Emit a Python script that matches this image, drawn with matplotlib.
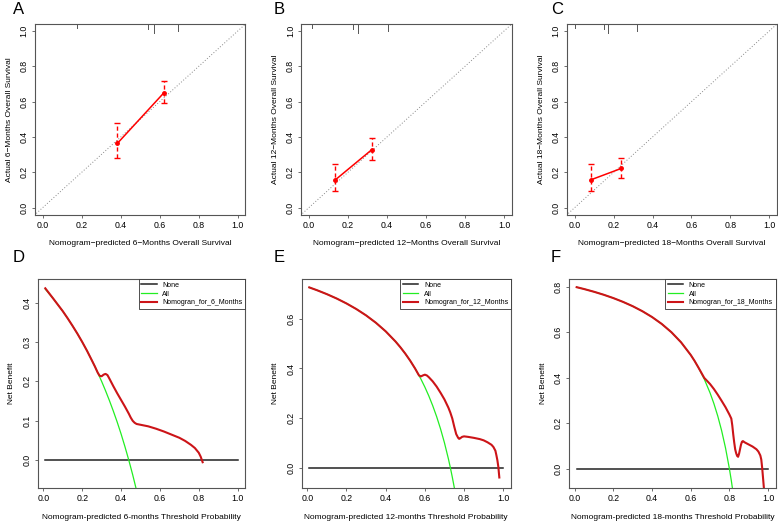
import matplotlib
matplotlib.use("Agg")
import matplotlib.pyplot as plt
import numpy as np

plt.rcParams["font.family"] = ["Liberation Sans", "DejaVu Sans"]

W, H = 778, 527

# ---------- calibration data (top row)
MONTHS = ["6", "12", "18"]
CAL_PRED = [[0.383, 0.622], [0.133, 0.321], [0.085, 0.240]]
CAL_OBS = [[0.364, 0.651], [0.155, 0.327], [0.158, 0.222]]
CAL_LO = [[0.283, 0.590], [0.093, 0.268], [0.096, 0.170]]
CAL_HI = [[0.477, 0.717], [0.244, 0.395], [0.247, 0.280]]
RUG_POS = [[0.177, 0.540, 0.571, 0.694],
           [0.015, 0.227, 0.253, 0.407],
           [0.003, 0.151, 0.172, 0.320]]
RUG_LEN = [0.023, 0.030, 0.050, 0.040]

# ---------- decision curve data (bottom row)
ALL_T = [
    [0.01, 0.05, 0.10, 0.125, 0.15, 0.175, 0.20, 0.225, 0.25, 0.265, 0.28,
     0.30, 0.32, 0.34, 0.36, 0.38, 0.40, 0.42, 0.44, 0.46, 0.48, 0.50],
    [0.01, 0.05, 0.10, 0.15, 0.20, 0.25, 0.30, 0.35, 0.40, 0.45, 0.475, 0.50,
     0.525, 0.55, 0.58, 0.60, 0.62, 0.64, 0.66, 0.68, 0.70, 0.72, 0.73, 0.74,
     0.75, 0.76],
    [0.01, 0.05, 0.10, 0.15, 0.20, 0.25, 0.30, 0.35, 0.40, 0.45, 0.50, 0.55,
     0.60, 0.62, 0.64, 0.67, 0.70, 0.72, 0.74, 0.76, 0.78, 0.80, 0.81, 0.82],
]
ALL_NB = [
    [0.434, 0.4105, 0.378, 0.360, 0.341, 0.3212, 0.300, 0.2774, 0.253, 0.2381,
     0.222, 0.200, 0.1765, 0.1515, 0.125, 0.097, 0.067, 0.0345, 0.000, -0.037,
     -0.077, -0.120],
    [0.7273, 0.7158, 0.700, 0.6824, 0.6625, 0.640, 0.6143, 0.5846, 0.550,
     0.5091, 0.4857, 0.460, 0.4316, 0.400, 0.3571, 0.325, 0.2895, 0.250,
     0.2059, 0.1563, 0.100, 0.0357, 0.000, -0.0385, -0.080, -0.125],
    [0.798, 0.7895, 0.7778, 0.7647, 0.750, 0.7333, 0.7143, 0.6923, 0.6667,
     0.6364, 0.600, 0.5556, 0.500, 0.4737, 0.4444, 0.3939, 0.3333, 0.2857,
     0.2308, 0.1667, 0.0909, 0.000, -0.0526, -0.1111],
]
NOM_T = [
    [0.01, 0.05, 0.10, 0.125, 0.15, 0.175, 0.20, 0.225, 0.25, 0.265, 0.28,
     0.29, 0.30, 0.31, 0.32, 0.33, 0.34, 0.36, 0.38, 0.40, 0.42, 0.44, 0.45,
     0.46, 0.47, 0.48, 0.50, 0.54, 0.58, 0.62, 0.66, 0.70, 0.73, 0.76, 0.78,
     0.80, 0.81, 0.82],
    [0.01, 0.05, 0.10, 0.15, 0.20, 0.25, 0.30, 0.35, 0.40, 0.45, 0.475, 0.50,
     0.525, 0.55, 0.57, 0.58, 0.59, 0.60, 0.61, 0.62, 0.64, 0.66, 0.68, 0.70,
     0.72, 0.73, 0.74, 0.75, 0.76, 0.77, 0.775, 0.78, 0.79, 0.80, 0.82, 0.85,
     0.88, 0.90, 0.92, 0.94, 0.95, 0.96, 0.965, 0.97, 0.975, 0.98],
    [0.01, 0.05, 0.10, 0.15, 0.20, 0.25, 0.30, 0.35, 0.40, 0.45, 0.50, 0.55,
     0.60, 0.62, 0.64, 0.67, 0.68, 0.70, 0.72, 0.74, 0.76, 0.78, 0.80, 0.81,
     0.815, 0.82, 0.825, 0.83, 0.835, 0.84, 0.845, 0.85, 0.855, 0.86, 0.865,
     0.87, 0.88, 0.90, 0.92, 0.94, 0.95, 0.96, 0.965, 0.97, 0.975, 0.98],
]
NOM_NB = [
    [0.436, 0.4105, 0.378, 0.360, 0.341, 0.3212, 0.300, 0.2774, 0.253, 0.2381,
     0.222, 0.214, 0.213, 0.217, 0.219, 0.216, 0.207, 0.188, 0.170, 0.153,
     0.136, 0.118, 0.108, 0.100, 0.095, 0.092, 0.090, 0.086, 0.080, 0.073,
     0.065, 0.057, 0.049, 0.039, 0.031, 0.019, 0.009, -0.005],
    [0.7273, 0.7158, 0.700, 0.6824, 0.6625, 0.640, 0.6143, 0.5846, 0.550,
     0.5091, 0.4857, 0.460, 0.4316, 0.400, 0.372, 0.368, 0.372, 0.375, 0.372,
     0.365, 0.348, 0.327, 0.302, 0.275, 0.242, 0.222, 0.198, 0.165, 0.135,
     0.120, 0.116, 0.118, 0.124, 0.126, 0.124, 0.120, 0.115, 0.110, 0.102,
     0.092, 0.083, 0.068, 0.050, 0.030, 0.003, -0.040],
    [0.798, 0.7895, 0.7778, 0.7647, 0.750, 0.7333, 0.7143, 0.6923, 0.6667,
     0.6364, 0.600, 0.5556, 0.500, 0.4737, 0.4444, 0.399, 0.390, 0.372, 0.350,
     0.325, 0.298, 0.270, 0.238, 0.220, 0.190, 0.150, 0.115, 0.085, 0.068,
     0.056, 0.052, 0.065, 0.085, 0.105, 0.118, 0.121, 0.115, 0.106, 0.097,
     0.085, 0.075, 0.058, 0.040, 0.000, -0.050, -0.100],
]
DCA_YLIM = [(-0.0696, 0.4596), (-0.0812, 0.7612), (-0.084, 0.834)]
DCA_YTICKS = [[0.0, 0.1, 0.2, 0.3, 0.4], [0.0, 0.2, 0.4, 0.6],
              [0.0, 0.2, 0.4, 0.6, 0.8]]

TOP_BOX = [(35, 245.5), (301.2, 511.8), (567, 777)]
BOT_BOX = [(37.6, 245.3), (301.5, 511), (569, 775.7)]
LETTERS_TOP = ["A", "B", "C"]
LETTERS_BOT = ["D", "E", "F"]
LETTER_X = [13, 274, 551]


def rect(l, r, t, b):
    return [l / W, 1 - b / H, (r - l) / W, (b - t) / H]


def style(ax):
    for s in ax.spines.values():
        s.set_color("#555555")
        s.set_linewidth(0.8)
    ax.tick_params(labelsize=6.3, length=2.5, width=0.6, color="#555555",
                   pad=2)
    for lab in ax.get_yticklabels():
        lab.set_rotation(90)
        lab.set_va("center")


fig = plt.figure(figsize=(W / 100, H / 100), dpi=100)
ticks01 = [0.0, 0.2, 0.4, 0.6, 0.8, 1.0]

for k in range(3):
    l, r = TOP_BOX[k]
    ax = fig.add_axes(rect(l, r, 24, 214.6))
    ax.plot([-0.2, 1.2], [-0.2, 1.2], ls=(0, (1, 2)), color="#888888", lw=0.7)
    ax.plot(CAL_PRED[k], CAL_OBS[k], color="#FF0000", lw=1.1)
    eb = ax.errorbar(CAL_PRED[k], CAL_OBS[k],
                     yerr=[np.subtract(CAL_OBS[k], CAL_LO[k]),
                           np.subtract(CAL_HI[k], CAL_OBS[k])],
                     fmt="o", ms=2.5, color="#FF0000", ecolor="#FF0000",
                     elinewidth=1.0, capsize=2, capthick=1.0)
    eb[2][0].set_linestyle((0, (3, 2)))
    for x, ln in zip(RUG_POS[k], RUG_LEN):
        ax.plot([x, x], [1.04, 1.04 - ln], color="#555555", lw=0.7)
    ax.set_xlim(-0.04, 1.04)
    ax.set_ylim(-0.04, 1.04)
    ax.set_xticks(ticks01)
    ax.set_yticks(ticks01)
    ax.set_xticklabels([f"{v:.1f}" for v in ticks01])
    ax.set_yticklabels([f"{v:.1f}" for v in ticks01])
    style(ax)
    ax.set_xlabel(f"Nomogram\u2212predicted {MONTHS[k]}\u2212Months Overall Survival",
                  fontsize=6, labelpad=7)
    ax.set_ylabel(f"Actual {MONTHS[k]}\u2212Months Overall Survival",
                  fontsize=6, labelpad=5)
    fig.text(LETTER_X[k] / W, 1 - 9 / H, LETTERS_TOP[k], fontsize=12,
             ha="left", va="center")

for k in range(3):
    l, r = BOT_BOX[k]
    ax = fig.add_axes(rect(l, r, 279, 487.7))
    ax.plot([0.01, 1.0], [0, 0], color="#222222", lw=1.1, label="None")
    ax.plot(ALL_T[k], ALL_NB[k], color="#22EE22", lw=0.9, label="All",
            solid_joinstyle="round")
    ax.plot(NOM_T[k], NOM_NB[k], color="#CC1418", lw=1.5,
            label=f"Nomogran_for_{MONTHS[k]}_Months", solid_joinstyle="round")
    ax.set_xlim(-0.0296, 1.0396)
    ax.set_ylim(*DCA_YLIM[k])
    ax.set_xticks(ticks01)
    ax.set_xticklabels([f"{v:.1f}" for v in ticks01])
    ax.set_yticks(DCA_YTICKS[k])
    ax.set_yticklabels([f"{v:.1f}" for v in DCA_YTICKS[k]])
    style(ax)
    ax.set_xlabel(f"Nomogram-predicted {MONTHS[k]}-months Threshold Probability",
                  fontsize=6, labelpad=8)
    ax.set_ylabel("Net Benefit", fontsize=6, labelpad=5)
    leg = ax.legend(loc="upper right", fontsize=5, frameon=True, fancybox=False,
                    edgecolor="#333333", framealpha=1, borderaxespad=0,
                    handlelength=2.2, labelspacing=0.25, borderpad=0.4)
    leg.get_frame().set_linewidth(0.6)
    fig.text(LETTER_X[k] / W, 1 - 257 / H, LETTERS_BOT[k], fontsize=12,
             ha="left", va="center")

fig.savefig("out.png", dpi=100)
